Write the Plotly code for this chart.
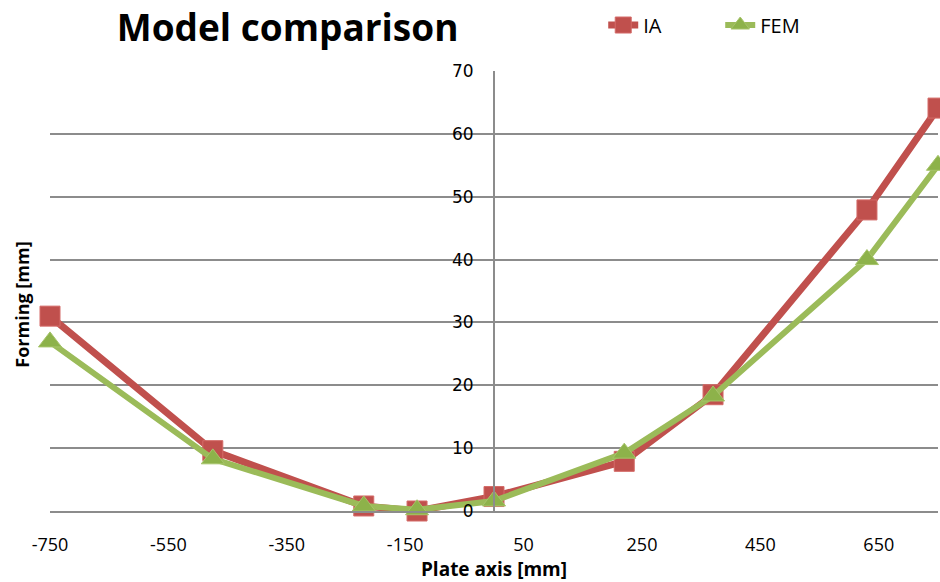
import plotly.graph_objects as go

# Plate positions [mm] and forming depth [mm] for both models
plate_axis = [-750, -475, -220, -130, 0, 220, 370, 630, 750]
ia_forming = [31.0, 9.6, 0.8, 0.0, 2.3, 7.9, 18.5, 47.9, 64.1]
fem_forming = [26.9, 8.3, 0.8, 0.2, 1.6, 9.2, 18.3, 40.0, 55.0]

x_ticks = [-750, -550, -350, -150, 50, 250, 450, 650]
y_ticks = [0, 10, 20, 30, 40, 50, 60, 70]

IA_RED = "#C0504D"
FEM_GREEN = "#9BBB59"
GRID = "#8C8C8C"

fig = go.Figure()
fig.add_trace(go.Scatter(
    x=plate_axis, y=ia_forming, name="IA", mode="lines+markers",
    line=dict(color=IA_RED, width=7), cliponaxis=False,
    marker=dict(symbol="square", size=20, color=IA_RED,
                line=dict(color="#D46B68", width=1)),
))
fig.add_trace(go.Scatter(
    x=plate_axis, y=fem_forming, name="FEM", mode="lines+markers",
    line=dict(color=FEM_GREEN, width=6), cliponaxis=False,
    marker=dict(symbol="triangle-up", size=20, color="#8DB24A",
                line=dict(color="#A6C46A", width=1)),
))

fig.update_layout(
    width=940, height=582,
    margin=dict(l=50, r=2, t=71, b=71),
    paper_bgcolor="white", plot_bgcolor="white",
    title=dict(text="<b>Model comparison</b>", x=0.306, xanchor="center",
               y=0.952, yanchor="middle",
               font=dict(family="Open Sans", size=37, color="black")),
    legend=dict(orientation="h", x=0.623, xanchor="left",
                y=0.957, yanchor="middle", yref="container",
                font=dict(family="Open Sans", size=20, color="black"),
                bgcolor="rgba(0,0,0,0)",
                entrywidth=72, entrywidthmode="pixels"),
    showlegend=True,
)

fig.update_xaxes(
    range=[-750, 750], tickvals=x_ticks, ticktext=[str(v) for v in x_ticks],
    showgrid=False, zeroline=False,
    showline=True, linecolor=GRID, linewidth=2,
    ticks="", ticklabelstandoff=16,
    tickfont=dict(family="Open Sans", size=18, color="black"),
    title=dict(text="<b>Plate axis [mm]</b>", standoff=1,
               font=dict(family="Open Sans", size=19, color="black")),
)
fig.update_yaxes(
    range=[0, 70], tickvals=y_ticks,
    anchor="free", position=0.5,
    showgrid=True, gridcolor=GRID, gridwidth=1.5,
    zeroline=False, showline=True, linecolor=GRID, linewidth=2,
    ticks="", ticklabelstandoff=16,
    tickfont=dict(family="DejaVu Sans", size=17, color="black"),
)
# Axis title for the vertical axis sits at the left edge of the chart
fig.add_annotation(
    text="<b>Forming [mm]</b>", textangle=-90,
    xref="paper", yref="paper", x=-0.031, y=0.47,
    xanchor="center", yanchor="middle", showarrow=False,
    font=dict(family="Open Sans", size=18, color="black"),
)

fig.write_html("out.html")
